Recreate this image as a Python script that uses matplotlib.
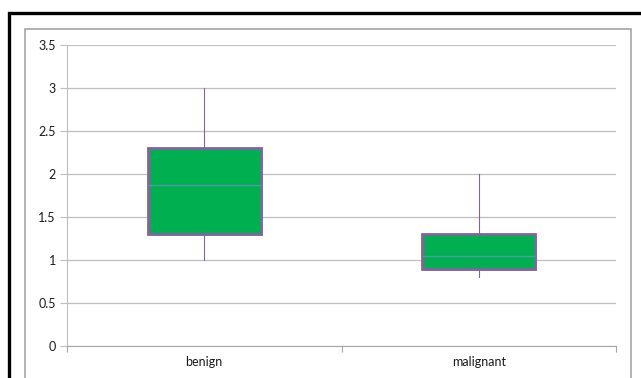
import matplotlib
matplotlib.use("Agg")
import matplotlib.pyplot as plt
import matplotlib.patheffects as pe
from matplotlib.patches import Rectangle

plt.rcParams["font.family"] = ["Lato", "DejaVu Sans"]

# box statistics per group
groups = ["benign", "malignant"]
whisker_low = [1.0, 0.8]
q1 = [1.3, 0.9]
median = [1.87, 1.05]
q3 = [2.3, 1.3]
whisker_high = [3.0, 2.0]

yticks = [0, 0.5, 1, 1.5, 2, 2.5, 3, 3.5]
ytick_labels = ["0", "0.5", "1", "1.5", "2", "2.5", "3", "3.5"]

W, H = 641, 378
fig = plt.figure(figsize=(W / 100, H / 100), dpi=100)
fig.patch.set_facecolor("white")

# outer frame (black) and chart area frame (gray)
fig.patches.append(Rectangle((9 / W, -0.05), 1.2, (H - 13) / H + 0.05,
                             transform=fig.transFigure, fill=False,
                             edgecolor="black", linewidth=2.4))
fig.patches.append(Rectangle((25 / W, -0.05), (631 - 25) / W, (H - 29) / H + 0.05,
                             transform=fig.transFigure, fill=False,
                             edgecolor="#a6a6a6", linewidth=1.2))

ax = fig.add_axes([67 / W, (H - 346) / H, (616 - 67) / W, (346 - 45) / H])

stats = []
for i, g in enumerate(groups):
    stats.append({"label": g, "whislo": whisker_low[i], "q1": q1[i],
                  "med": median[i], "q3": q3[i], "whishi": whisker_high[i],
                  "fliers": []})

positions = [0.5, 1.5]
bp = ax.bxp(stats, positions=positions, widths=0.41, patch_artist=True,
            showcaps=False, showfliers=False,
            boxprops=dict(facecolor="#00b050", edgecolor="#8064a2", linewidth=2.0),
            whiskerprops=dict(color="#8064a2", linewidth=0.8),
            medianprops=dict(color="#4f9aa8", linewidth=1.0))
for box in bp["boxes"]:
    box.set_path_effects([pe.SimplePatchShadow(offset=(1.5, -1.5), shadow_rgbFace="#7a6a8a", alpha=0.5),
                          pe.Normal()])
    box.set_zorder(3)
for ln in bp["whiskers"]:
    ln.set_zorder(2)
for ln in bp["medians"]:
    ln.set_zorder(4)

ax.set_xlim(0, 2)
ax.set_ylim(0, 3.5)
ax.set_yticks(yticks)
ax.set_yticklabels(ytick_labels)
ax.set_xticks([0, 1, 2], minor=False)
ax.set_xticklabels([])
ax.set_xticks(positions, minor=True)
ax.set_xticklabels(groups, minor=True)
ax.tick_params(axis="x", which="minor", length=0, pad=7, labelsize=9, labelcolor="#1a1a1a")
ax.tick_params(axis="x", which="major", length=4, color="#a6a6a6", direction="out")
ax.tick_params(axis="y", length=5, color="#bfbfbf", labelsize=9, labelcolor="#1a1a1a", pad=3)

ax.grid(axis="y", color="#bfbfbf", linewidth=0.9)
ax.set_axisbelow(True)
for side in ["top", "right"]:
    ax.spines[side].set_visible(False)
ax.spines["left"].set_color("#bfbfbf")
ax.spines["bottom"].set_color("#a6a6a6")

fig.savefig("out.png", dpi=100)
